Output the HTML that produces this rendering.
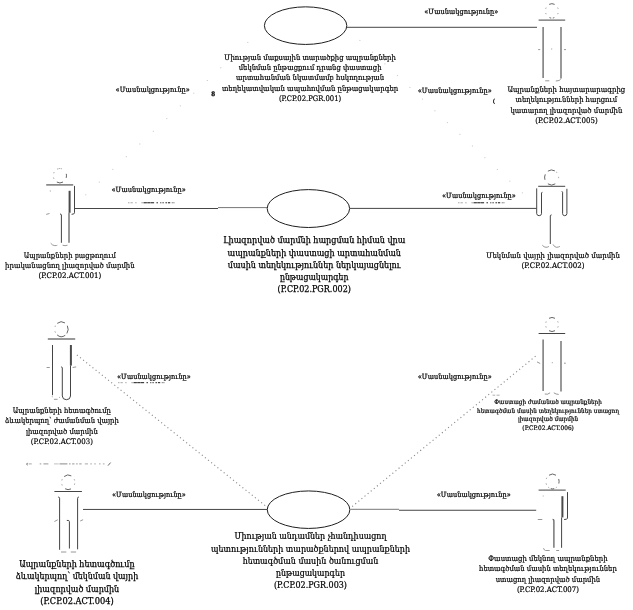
<!DOCTYPE html>
<html lang="hy">
<head>
<meta charset="utf-8">
<title>Use case diagram</title>
<style>
html,body{margin:0;padding:0;background:#fff;}
body{width:633px;height:610px;overflow:hidden;}
svg{display:block;will-change:transform;}
text{font-family:'DejaVu Serif Condensed','DejaVu Serif','Liberation Serif',serif;fill:#000;stroke:#000;}
.ln{stroke:#3c3c3c;stroke-width:0.95;fill:none;}
.ll{stroke:#777;stroke-width:1;fill:none;}
.el{stroke:#1e1e1e;stroke-width:1;fill:#fff;}
.ac{stroke:#444;stroke-width:1;fill:none;stroke-linecap:butt;}
.ag{stroke:#686868;stroke-width:1.35;fill:none;}
.hf{stroke:#8c8c8c;stroke-width:0.9;fill:none;}
.acd{stroke:#4a4a4a;stroke-width:2;fill:none;}
.hd{stroke:#555;stroke-width:0.9;fill:none;}
.dt{stroke:#858585;stroke-width:1.1;fill:none;stroke-dasharray:1.1 2.9;}
.rm{stroke:#333;stroke-width:0.9;fill:none;}
.rl{stroke:#999;stroke-width:0.9;fill:none;}
</style>
</head>
<body>
<svg width="633" height="610" viewBox="0 0 633 610">
<g id="lines">
<line class="ln" x1="346.6" y1="27.3" x2="537" y2="27.3"/>
<line class="ln" x1="75" y1="208.5" x2="218" y2="208.5"/>
<line class="ll" x1="218" y1="207.6" x2="267" y2="207.6"/>
<line class="ln" x1="350" y1="208.4" x2="536.6" y2="208.4"/>
<line class="ln" x1="83" y1="509.45" x2="267.5" y2="509.45"/>
<line class="ll" x1="350.5" y1="509.3" x2="399" y2="509.3"/>
<line class="ln" x1="399" y1="510.25" x2="536.2" y2="510.25"/>
<line class="dt" x1="76.9" y1="355" x2="268" y2="507.9"/>
<line class="dt" x1="352.2" y1="506.5" x2="537.4" y2="354.7" stroke-dasharray="1.1 3.5"/>
</g>
<g id="faint" fill="#c4c4c4">
<rect x="85.3" y="194.3" width="1" height="1"/>
<rect x="98.8" y="181.6" width="1" height="1"/>
<rect x="112.3" y="168.9" width="1" height="1"/>
<rect x="125.8" y="156.2" width="1" height="1"/>
<rect x="139.3" y="143.5" width="1" height="1"/>
<rect x="152.8" y="130.8" width="1" height="1"/>
<rect x="166.3" y="118.1" width="1" height="1"/>
<rect x="179.8" y="105.4" width="1" height="1"/>
<rect x="193.3" y="92.7" width="1" height="1"/>
<rect x="206.8" y="80.0" width="1" height="1"/>
<rect x="220.3" y="67.3" width="1" height="1"/>
<rect x="233.8" y="54.6" width="1" height="1"/>
<rect x="247.3" y="41.9" width="1" height="1"/>
<rect x="359.4" y="39.9" width="1" height="1"/>
<rect x="371.9" y="51.7" width="1" height="1"/>
<rect x="384.4" y="63.4" width="1" height="1"/>
<rect x="396.9" y="75.1" width="1" height="1"/>
<rect x="409.4" y="86.9" width="1" height="1"/>
<rect x="421.9" y="98.6" width="1" height="1"/>
<rect x="434.4" y="110.3" width="1" height="1"/>
<rect x="446.9" y="122.1" width="1" height="1"/>
<rect x="459.4" y="133.8" width="1" height="1"/>
<rect x="471.9" y="145.5" width="1" height="1"/>
<rect x="484.4" y="157.2" width="1" height="1"/>
<rect x="496.9" y="169.0" width="1" height="1"/>
<rect x="509.4" y="180.7" width="1" height="1"/>
<rect x="521.9" y="192.4" width="1" height="1"/>
</g>
<g id="remnants">
<g fill="#b0b0b0"><rect x="128.0" y="202.2" width="1.5" height="1.1"/><rect x="130.5" y="202.2" width="2.3" height="1.1"/><rect x="135.2" y="202.2" width="1.4" height="1.1"/><rect x="141.3" y="202.2" width="2.4" height="1.1"/></g>
<g fill="#2a2a2a"><rect x="143.7" y="202.2" width="3.2" height="1.1"/><rect x="147.2" y="202.2" width="2.8" height="1.1"/><rect x="150.3" y="202.2" width="3.8" height="1.1"/><rect x="156.5" y="202.2" width="1.4" height="1.1"/><rect x="160.3" y="202.2" width="1.0" height="1.1"/><rect x="162.5" y="202.2" width="1.2" height="1.1"/><rect x="165.5" y="202.2" width="1.4" height="1.1"/><rect x="167.9" y="202.2" width="2.3" height="1.1"/></g>
<g fill="#808080"><rect x="171.7" y="202.2" width="1.2" height="1.1"/><rect x="173.3" y="202.2" width="1.2" height="1.1"/></g>
<g fill="#b0b0b0"><rect x="458.0" y="202.2" width="1.5" height="1.1"/><rect x="460.5" y="202.2" width="2.3" height="1.1"/><rect x="465.2" y="202.2" width="1.4" height="1.1"/><rect x="471.3" y="202.2" width="2.4" height="1.1"/></g>
<g fill="#2a2a2a"><rect x="473.7" y="202.2" width="3.2" height="1.1"/><rect x="477.2" y="202.2" width="2.8" height="1.1"/><rect x="480.3" y="202.2" width="3.8" height="1.1"/><rect x="486.5" y="202.2" width="1.4" height="1.1"/><rect x="490.3" y="202.2" width="1.0" height="1.1"/><rect x="492.5" y="202.2" width="1.2" height="1.1"/><rect x="495.5" y="202.2" width="1.4" height="1.1"/><rect x="497.9" y="202.2" width="2.3" height="1.1"/></g>
<g fill="#808080"><rect x="501.7" y="202.2" width="1.2" height="1.1"/><rect x="503.3" y="202.2" width="1.2" height="1.1"/></g>
<g fill="#b0b0b0"><rect x="118.0" y="382.1" width="1.5" height="1.1"/><rect x="120.5" y="382.1" width="2.3" height="1.1"/><rect x="125.2" y="382.1" width="1.4" height="1.1"/><rect x="131.3" y="382.1" width="2.4" height="1.1"/></g>
<g fill="#2a2a2a"><rect x="133.7" y="382.1" width="3.2" height="1.1"/><rect x="137.2" y="382.1" width="2.8" height="1.1"/><rect x="140.3" y="382.1" width="3.8" height="1.1"/><rect x="146.5" y="382.1" width="1.4" height="1.1"/><rect x="150.3" y="382.1" width="1.0" height="1.1"/><rect x="152.5" y="382.1" width="1.2" height="1.1"/><rect x="155.5" y="382.1" width="1.4" height="1.1"/><rect x="157.9" y="382.1" width="2.3" height="1.1"/></g>
<g fill="#808080"><rect x="161.7" y="382.1" width="1.2" height="1.1"/><rect x="163.3" y="382.1" width="1.2" height="1.1"/></g>
<rect x="28.7" y="463.4" width="3.1" height="1" fill="#aaa"/><rect x="39.7" y="463.4" width="1.6" height="1" fill="#999"/><rect x="43.4" y="463.4" width="5.0" height="1" fill="#999"/><rect x="54.0" y="463.4" width="4.7" height="1" fill="#c0c0c0"/><rect x="59.5" y="463.4" width="7.9" height="1" fill="#8a8a8a"/><rect x="69.0" y="463.4" width="1.6" height="1" fill="#999"/><rect x="72.1" y="463.4" width="2.4" height="1" fill="#999"/><rect x="76.1" y="463.4" width="1.6" height="1" fill="#999"/><rect x="79.2" y="463.4" width="2.4" height="1" fill="#999"/><rect x="84.8" y="463.4" width="3.2" height="1" fill="#aaa"/><rect x="90.3" y="463.4" width="1.6" height="1" fill="#aaa"/><rect x="94.2" y="463.4" width="1.6" height="1" fill="#aaa"/><rect x="99.0" y="463.4" width="1.6" height="1" fill="#aaa"/><rect x="102.9" y="463.4" width="1.6" height="1" fill="#aaa"/>
<path d="M27.4 462.9q-1.2 1.2 0 2.4" stroke="#555" stroke-width="0.9" fill="none"/><path d="M110.6 462.6l-2.6 3" stroke="#555" stroke-width="0.9" fill="none"/>
</g>
<path d="M492.6 395.2h2.6M496.6 395.2h3" stroke="#9a9a9a" stroke-width="0.8" fill="none"/>
<g id="ellipses">
<ellipse class="el" cx="305.6" cy="25.65" rx="41.2" ry="18.8"/>
<ellipse class="el" cx="308.4" cy="208.55" rx="41.2" ry="18.95"/>
<ellipse class="el" cx="308.55" cy="509.7" rx="41.3" ry="18.75"/>
</g>
<g id="actors">
<g id="actor5"><path class="hd" d="M549.15 4.37A6.5 7.2 0 0 1 554.65 4.37M554.33 17.58A6.5 7.2 0 0 1 552.80 18.03M551.22 18.06A6.5 7.2 0 0 1 549.47 17.58"/><path class="hf" d="M557.69 7.63A6.5 7.2 0 0 1 558.12 8.79M558.12 13.01A6.5 7.2 0 0 1 557.69 14.17M546.11 14.17A6.5 7.2 0 0 1 545.68 13.01M545.68 8.79A6.5 7.2 0 0 1 546.11 7.63"/>
<path class="ac" d="M538.6 20.1H565.2"/>
<path class="ag" d="M543.1 27V78.1M561 27V78.5"/>
<path class="hf" d="M545.2 80.8H549.3M560.8 79Q560 81 555.8 81"/>
<path class="hf" d="M538.2 49.6h2M564 49.6h2M551.2 49h1"/>
</g>
<g id="actor2"><path class="hd" d="M547.89 171.14A7.0 7.5 0 0 1 554.89 170.88M544.94 179.82A7.0 7.5 0 0 1 545.26 174.33M555.31 183.86A7.0 7.5 0 0 1 547.89 183.86"/><path class="hf" d="M558.57 176.85A7.0 7.5 0 0 1 558.57 178.15M556.10 171.75A7.0 7.5 0 0 1 556.96 172.68"/>
<path class="ac" d="M538.2 186.3H565.2"/>
<path class="ac" d="M536.7 188.4V213.7q0.3 2 2.5 2q2.1 0 2.3 -2V192.9q0.1 -0.6 0.9 -0.6"/>
<path class="ac" d="M566.9 188.8V213.7q-0.2 2 -2.2 2q-2 0 -2.1 -2V192.2q-0.1 -0.7 -0.9 -0.7"/>
<path class="ac" d="M551.6 214.9q-1.3 0 -1.3 1V244"/>
<path class="hf" d="M542.3 245.2Q544 247.3 546 247.3T548.9 246.4M553 244.4Q554.5 247.3 556.5 247.3T559.9 246.4"/>
</g>
<g id="actor1"><path class="hd" d="M66.28 173.84A6.6 7.2 0 0 1 66.18 177.92M63.00 182.06A6.6 7.2 0 0 1 56.80 182.06"/><path class="hf" d="M57.11 169.17A6.6 7.2 0 0 1 58.19 168.75M58.75 168.61A6.6 7.2 0 0 1 59.90 168.50M60.70 168.55A6.6 7.2 0 0 1 61.83 168.81M53.92 178.74A6.6 7.2 0 0 1 53.52 177.56M53.70 173.24A6.6 7.2 0 0 1 54.18 172.10"/>
<path class="ag" d="M46.2 184.9H73.2"/>
<path class="ac" d="M74.5 185.9V212.8q0 1.5 -2.9 1.5" stroke="#666"/>
<path class="acd" d="M69.6 190.8V212.8"/>
<path class="ag" d="M69 212.8V242.8"/>
<path class="ac" d="M60 214q1.4 0 1.4 1V242.8"/>
<path class="hf" d="M50.7 243.2Q52.5 245.6 54.8 245.6T57.3 245.2M62.6 245.2Q65 246.2 67.5 245.2"/>
<path class="hf" d="M49.8 191h1M46.2 214.4l3.3 -0.9"/>
</g>
<g id="actor3"><path class="hd" d="M57.28 323.37A6.7 7.4 0 0 1 64.95 322.92M67.32 325.73A6.7 7.4 0 0 1 66.89 333.44M65.24 335.26A6.7 7.4 0 0 1 57.09 334.87"/><path class="hf" d="M55.43 332.56A6.7 7.4 0 0 1 54.99 331.36M55.03 326.91A6.7 7.4 0 0 1 55.48 325.73"/>
<path class="ag" d="M47.8 339H75.2" stroke-width="1.5"/>
<path class="ac" d="M52.5 345V395.2"/>
<path class="acd" d="M70.9 345V365.6"/>
<path class="ac" d="M61.2 366.9q1.1 0 1.1 1V396Q62.5 399.7 66.4 399.7T70.5 396V365.6"/>
<path class="hf" d="M53.9 399.3H57.6M52.3 396.4v0.8M59 397.8l0.8 -0.6"/>
<path class="hf" d="M46.6 367.5h3.2M72.6 367.5l3.6 -0.6"/>
</g>
<g id="actor4"><path class="hd" d="M64.14 476.55A6.6 7.3 0 0 1 71.30 475.85M70.99 488.92A6.6 7.3 0 0 1 65.10 488.75"/><path class="hf" d="M74.18 479.21A6.6 7.3 0 0 1 74.58 480.41M74.70 483.57A6.6 7.3 0 0 1 74.40 484.80M62.22 485.39A6.6 7.3 0 0 1 61.82 484.19M61.82 480.41A6.6 7.3 0 0 1 62.22 479.21"/>
<path class="ac" d="M54.4 491.5H81.9"/>
<path class="ac" d="M58.2 497q1.4 0.1 1.4 1.2V549.8"/>
<path class="ac" d="M78.8 497q-1.2 0.1 -1.2 1.2V549.3"/>
<path class="ac" d="M66.8 520.4q2.6 -0.4 2.6 1.2V548.5"/>
<path class="hf" d="M61 552H66.3M70.8 552H76.1"/>
<path class="hf" d="M54.4 521.5l3.3 -1.7M80.2 521l2.9 -1.3"/>
</g>
<g id="actor6"><path class="hd" d="M549.00 318.32A6.4 7.0 0 0 1 555.00 318.32M555.00 330.68A6.4 7.0 0 0 1 549.00 330.68"/><path class="hf" d="M557.70 321.32A6.4 7.0 0 0 1 558.12 322.45M558.18 326.31A6.4 7.0 0 0 1 557.80 327.46M546.20 327.46A6.4 7.0 0 0 1 545.82 326.31M545.82 322.69A6.4 7.0 0 0 1 546.20 321.54"/>
<path class="ac" d="M538.6 333.5H565.2" stroke-width="1.2"/>
<path class="ag" d="M543.1 339.6V391.1M561 340.9V391.5"/>
<path class="hf" d="M544.8 394Q547.6 395 550.1 392.8M553.8 392.8Q556 394.4 558.7 394.4"/>
<path class="hf" d="M537 361.9l3.2 1.6M551.8 362.7h1M564 363.2h1.8"/>
</g>
<g id="actor7"><path class="hd" d="M549.00 475.22A6.6 7.4 0 0 1 556.00 475.22M558.70 478.97A6.6 7.4 0 0 1 558.84 483.54M554.21 488.65A6.6 7.4 0 0 1 550.79 488.65"/><path class="hf" d="M546.52 484.63A6.6 7.4 0 0 1 546.12 483.42M546.30 478.97A6.6 7.4 0 0 1 546.78 477.80M556.74 487.17A6.6 7.4 0 0 1 555.80 487.91M549.20 487.91A6.6 7.4 0 0 1 548.26 487.17"/>
<path class="ac" d="M538.6 490.1H565.7"/>
<path class="ac" d="M567.5 492.1V518.2q0 1.3 -3.4 1.3"/>
<path class="acd" d="M562.4 496.2V517.4"/>
<path class="ac" d="M561.6 517.4V547.8"/>
<path class="ag" d="M552.6 519.4q1.3 0 1.3 1V547.8" stroke-width="1.5"/>
<path class="hf" d="M543.5 548.2q0.8 2.3 2 2.3H549.7M556.2 550.5H559.1"/>
<path class="hf" d="M537.8 519.5h4.5M542.8 496h0.8"/>
</g>
</g>
<g id="labels">
<g font-size="7.63" stroke-width="0.18">
<text x="224.35" y="60.40" textLength="171.5" lengthAdjust="spacingAndGlyphs">Միության մաքսային տարածքից ապրանքների</text>
<text x="238.75" y="70.40" textLength="142.7" lengthAdjust="spacingAndGlyphs">մեկնման ընթացքում դրանց փաստացի</text>
<text x="236.00" y="80.40" textLength="148.2" lengthAdjust="spacingAndGlyphs">արտահանման նկատմամբ հսկողության</text>
<text x="221.95" y="90.50" textLength="176.3" lengthAdjust="spacingAndGlyphs">տեղեկատվական ապահովման ընթացակարգեր</text>
<text x="278.95" y="100.60" textLength="62.3" lengthAdjust="spacingAndGlyphs">(P.CP.02.PGR.001)</text>
</g>
<g font-size="7.66" stroke-width="0.18">
<text x="507.50" y="91.85" textLength="117.8" lengthAdjust="spacingAndGlyphs">Ապրանքների հայտարարագրից</text>
<text x="515.60" y="102.20" textLength="101.6" lengthAdjust="spacingAndGlyphs">տեղեկությունների հարցում</text>
<text x="510.40" y="112.60" textLength="112.0" lengthAdjust="spacingAndGlyphs">կատարող լիազորված մարմին</text>
<text x="535.15" y="123.00" textLength="62.5" lengthAdjust="spacingAndGlyphs">(P.CP.02.ACT.005)</text>
</g>
<g font-size="8.9" stroke-width="0.25">
<text x="223.15" y="242.90" textLength="182.2" lengthAdjust="spacingAndGlyphs">Լիազորված մարմնի հարցման հիման վրա</text>
<text x="227.50" y="255.80" textLength="173.5" lengthAdjust="spacingAndGlyphs">ապրանքների փաստացի արտահանման</text>
<text x="227.85" y="267.60" textLength="172.8" lengthAdjust="spacingAndGlyphs">մասին տեղեկություններ ներկայացնելու</text>
<text x="279.95" y="280.20" textLength="68.6" lengthAdjust="spacingAndGlyphs">ընթացակարգեր</text>
<text x="277.60" y="292.30" textLength="73.3" lengthAdjust="spacingAndGlyphs">(P.CP.02.PGR.002)</text>
</g>
<g font-size="7.7" stroke-width="0.18">
<text x="486.35" y="257.70" textLength="133.5" lengthAdjust="spacingAndGlyphs">Մեկնման վայրի լիազորված մարմին</text>
<text x="521.60" y="268.10" textLength="63.0" lengthAdjust="spacingAndGlyphs">(P.CP.02.ACT.002)</text>
</g>
<g font-size="7.65" stroke-width="0.18">
<text x="23.80" y="257.90" textLength="92.1" lengthAdjust="spacingAndGlyphs">Ապրանքների բացթողում</text>
<text x="5.10" y="267.90" textLength="129.5" lengthAdjust="spacingAndGlyphs">իրականացնող լիազորված մարմին</text>
<text x="38.40" y="277.70" textLength="62.9" lengthAdjust="spacingAndGlyphs">(P.CP.02.ACT.001)</text>
</g>
<g font-size="7.62" stroke-width="0.18">
<text x="12.80" y="413.10" textLength="98.1" lengthAdjust="spacingAndGlyphs">Ապրանքների հետագծումը</text>
<text x="4.95" y="423.40" textLength="113.8" lengthAdjust="spacingAndGlyphs">ձևակերպող՝ ժամանման վայրի</text>
<text x="25.90" y="433.70" textLength="71.9" lengthAdjust="spacingAndGlyphs">լիազորված մարմին</text>
<text x="30.80" y="443.90" textLength="62.1" lengthAdjust="spacingAndGlyphs">(P.CP.02.ACT.003)</text>
</g>
<g font-size="8.93" stroke-width="0.25">
<text x="19.28" y="566.70" textLength="115.3" lengthAdjust="spacingAndGlyphs">Ապրանքների հետագծումը</text>
<text x="15.65" y="579.20" textLength="122.6" lengthAdjust="spacingAndGlyphs">ձևակերպող՝ մեկնման վայրի</text>
<text x="34.75" y="591.60" textLength="84.4" lengthAdjust="spacingAndGlyphs">լիազորված մարմին</text>
<text x="40.30" y="604.00" textLength="73.3" lengthAdjust="spacingAndGlyphs">(P.CP.02.ACT.004)</text>
</g>
<g font-size="8.87" stroke-width="0.22">
<text x="234.45" y="538.70" textLength="152.1" lengthAdjust="spacingAndGlyphs">Միության անդամներ չհանդիսացող</text>
<text x="211.00" y="551.80" textLength="199.0" lengthAdjust="spacingAndGlyphs">պետությունների տարածքներով ապրանքների</text>
<text x="242.65" y="563.50" textLength="135.7" lengthAdjust="spacingAndGlyphs">հետագծման մասին ծանուցման</text>
<text x="276.00" y="575.80" textLength="69.0" lengthAdjust="spacingAndGlyphs">ընթացակարգեր</text>
<text x="274.00" y="588.20" textLength="73.0" lengthAdjust="spacingAndGlyphs">(P.CP.02.PGR.003)</text>
</g>
<g font-size="6.34" stroke-width="0.2">
<text x="494.30" y="404.40" textLength="107.6" lengthAdjust="spacingAndGlyphs">Փաստացի ժամանած ապրանքների</text>
<text x="477.10" y="412.80" textLength="142.0" lengthAdjust="spacingAndGlyphs">հետագծման մասին տեղեկություններ ստացող</text>
<text x="517.95" y="421.20" textLength="60.3" lengthAdjust="spacingAndGlyphs">լիազորված մարմին</text>
<text x="522.38" y="429.60" textLength="51.5" lengthAdjust="spacingAndGlyphs">(P.CP.02.ACT.006)</text>
</g>
<g font-size="7.63" stroke-width="0.18">
<text x="488.30" y="560.60" textLength="119.3" lengthAdjust="spacingAndGlyphs">Փաստացի մեկնող ապրանքների</text>
<text x="479.10" y="570.90" textLength="137.7" lengthAdjust="spacingAndGlyphs">հետագծման մասին տեղեկություններ</text>
<text x="495.68" y="581.50" textLength="104.5" lengthAdjust="spacingAndGlyphs">ստացող լիազորված մարմին</text>
<text x="516.90" y="591.60" textLength="62.1" lengthAdjust="spacingAndGlyphs">(P.CP.02.ACT.007)</text>
</g>
<g font-size="7.34" stroke-width="0.22">
<text x="424.30" y="14.40" textLength="74.0" lengthAdjust="spacingAndGlyphs">«Մասնակցությունը»</text>
</g>
<g font-size="7.34" stroke-width="0.22">
<text x="115.60" y="91.60" textLength="74.3" lengthAdjust="spacingAndGlyphs">«Մասնակցությունը»</text>
</g>
<g font-size="7.34" stroke-width="0.22">
<text x="417.80" y="92.60" textLength="74.0" lengthAdjust="spacingAndGlyphs">«Մասնակցությունը»</text>
</g>
<g font-size="7.34" stroke-width="0.22">
<text x="111.40" y="191.70" textLength="74.4" lengthAdjust="spacingAndGlyphs">«Մասնակցությունը»</text>
</g>
<g font-size="7.34" stroke-width="0.22">
<text x="442.00" y="197.90" textLength="73.8" lengthAdjust="spacingAndGlyphs">«Մասնակցությունը»</text>
</g>
<g font-size="7.34" stroke-width="0.22">
<text x="117.00" y="378.90" textLength="73.8" lengthAdjust="spacingAndGlyphs">«Մասնակցությունը»</text>
</g>
<g font-size="7.34" stroke-width="0.22">
<text x="112.00" y="496.80" textLength="73.8" lengthAdjust="spacingAndGlyphs">«Մասնակցությունը»</text>
</g>
<g font-size="7.34" stroke-width="0.22">
<text x="417.80" y="378.90" textLength="74.0" lengthAdjust="spacingAndGlyphs">«Մասնակցությունը»</text>
</g>
<g font-size="7.34" stroke-width="0.22">
<text x="436.70" y="497.10" textLength="74.1" lengthAdjust="spacingAndGlyphs">«Մասնակցությունը»</text>
</g>
<text x="211.2" y="95.6" font-size="6.2" font-weight="bold" stroke-width="0.3">8</text>
<text x="492.9" y="102.6" font-size="5.6" stroke-width="0.35">(</text>
</g>
</svg>
</body>
</html>
